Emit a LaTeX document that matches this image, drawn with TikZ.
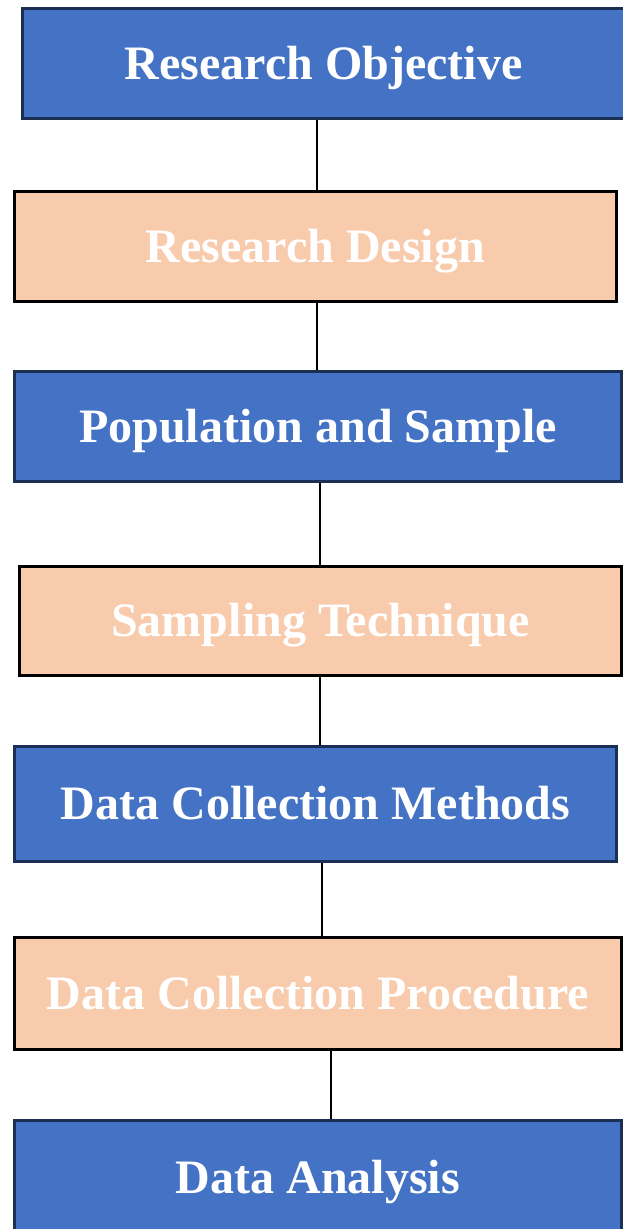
\documentclass[tikz,border=0pt]{standalone}
\usepackage{fontspec}
\setmainfont{Liberation Serif}
\definecolor{boxblue}{HTML}{4472C4}
\definecolor{boxpeach}{HTML}{F8CBAD}
\definecolor{navy}{HTML}{1B2F52}
\tikzset{
  stepbase/.style={rectangle, line width=3pt, inner sep=0pt, text=white,
    font=\fontsize{48}{58}\selectfont\bfseries, text height=31pt, text depth=0pt},
  bluebox/.style={stepbase, fill=boxblue, draw=navy},
  peachbox/.style={stepbase, fill=boxpeach, draw=black},
  conn/.style={draw=black, line width=2pt}
}
\begin{document}
\begin{tikzpicture}[x=1pt,y=-1pt]
\useasboundingbox (0,0) rectangle (623,1229);
\clip (0,0) rectangle (623,1229);
\node[bluebox, minimum width=602pt, minimum height=110pt] (b1) at (323.5,63.5) {Research Objective};
\node[peachbox, minimum width=602pt, minimum height=110pt] (b2) at (315.5,246.5) {Research Design};
\node[bluebox, minimum width=607pt, minimum height=110pt] (b3) at (318,426.5) {Population and Sample};
\node[peachbox, minimum width=602pt, minimum height=109pt] (b4) at (320.5,621) {Sampling Technique};
\node[bluebox, minimum width=602pt, minimum height=115pt] (b5) at (315.5,804) {Data Collection Methods};
\node[peachbox, minimum width=607pt, minimum height=112pt] (b6) at (318,993.5) {Data Collection Procedure};
\node[bluebox, minimum width=607pt, minimum height=114.5pt] (b7) at (318,1177.75) {Data Analysis};
\coordinate (xa) at (316.5,0);
\coordinate (xb) at (319.5,0);
\coordinate (xc) at (322,0);
\coordinate (xd) at (331,0);
\draw[conn] (b1.south -| xa) -- (b2.north -| xa);
\draw[conn] (b2.south -| xa) -- (b3.north -| xa);
\draw[conn] (b3.south -| xb) -- (b4.north -| xb);
\draw[conn] (b4.south -| xb) -- (b5.north -| xb);
\draw[conn] (b5.south -| xc) -- (b6.north -| xc);
\draw[conn] (b6.south -| xd) -- (b7.north -| xd);
\end{tikzpicture}
\end{document}
